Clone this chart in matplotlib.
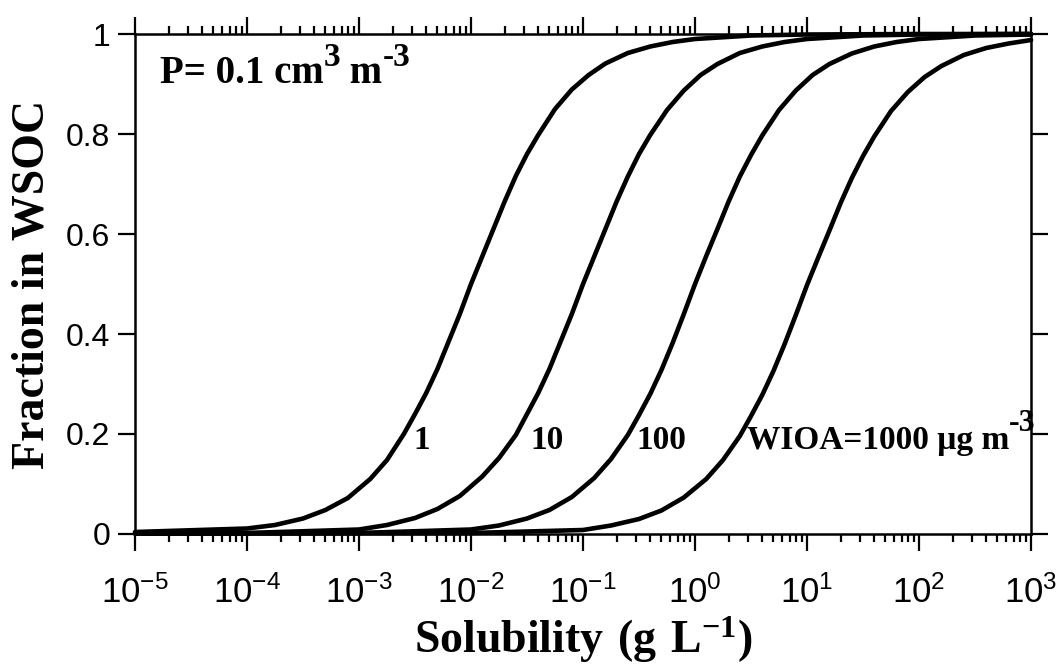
import numpy as np
import matplotlib
matplotlib.use("Agg")
import matplotlib.pyplot as plt
from matplotlib.ticker import FixedLocator, FixedFormatter

plt.rcParams["font.family"] = "Liberation Sans"
plt.rcParams["mathtext.fontset"] = "custom"
plt.rcParams["mathtext.rm"] = "Liberation Sans"
plt.rcParams["mathtext.bf"] = "Liberation Serif:bold"

# log10 of solubility (g/L) and fraction in WSOC for each WIOA loading
log_s_1 = [-5, -4, -3.75, -3.5, -3.3, -3.1, -2.9, -2.75, -2.6, -2.5, -2.4, -2.3,
           -2.2, -2.1, -2.0, -1.9, -1.8, -1.7, -1.6, -1.5, -1.4, -1.25, -1.1,
           -0.95, -0.8, -0.6, -0.4, -0.2, 0, 0.5, 1, 2, 3]
frac_1 = [0.004, 0.011, 0.018, 0.031, 0.048, 0.072, 0.11, 0.148, 0.20, 0.24, 0.282, 0.33,
          0.385, 0.44, 0.50, 0.555, 0.61, 0.665, 0.716, 0.76, 0.798, 0.85, 0.889,
          0.918, 0.941, 0.962, 0.975, 0.984, 0.99, 0.997, 0.999, 1.0, 1.0]

log_s_10 = [-5, -4, -3, -2.75, -2.5, -2.3, -2.1, -1.9, -1.75, -1.6, -1.5, -1.4,
            -1.3, -1.2, -1.1, -1.0, -0.9, -0.8, -0.7, -0.6, -0.5, -0.4, -0.25,
            -0.1, 0.05, 0.2, 0.4, 0.6, 0.8, 1.0, 1.5, 2, 3]
frac_10 = [0.001, 0.002, 0.009, 0.018, 0.032, 0.05, 0.076, 0.115, 0.152, 0.198, 0.24, 0.282,
           0.33, 0.385, 0.44, 0.50, 0.555, 0.61, 0.665, 0.715, 0.76, 0.798, 0.848,
           0.887, 0.918, 0.94, 0.962, 0.975, 0.984, 0.99, 0.997, 0.999, 1.0]

log_s_100 = [-5, -3, -2, -1.75, -1.5, -1.3, -1.1, -0.9, -0.75, -0.6, -0.5, -0.4,
             -0.3, -0.2, -0.1, 0, 0.1, 0.2, 0.3, 0.4, 0.5, 0.6, 0.75,
             0.9, 1.05, 1.2, 1.4, 1.6, 1.8, 2.0, 2.5, 3]
frac_100 = [0.001, 0.002, 0.009, 0.017, 0.031, 0.048, 0.074, 0.112, 0.15, 0.198, 0.238, 0.28,
            0.328, 0.382, 0.44, 0.50, 0.556, 0.61, 0.665, 0.715, 0.758, 0.797, 0.848,
            0.887, 0.918, 0.94, 0.961, 0.975, 0.984, 0.99, 0.997, 0.999]

log_s_1000 = [-5, -2, -1, -0.75, -0.5, -0.3, -0.1, 0.1, 0.25, 0.4, 0.5, 0.6,
              0.7, 0.8, 0.9, 1.0, 1.1, 1.2, 1.3, 1.4, 1.5, 1.6, 1.75,
              1.9, 2.05, 2.2, 2.4, 2.6, 2.8, 3.0]
frac_1000 = [0.001, 0.002, 0.008, 0.017, 0.03, 0.047, 0.073, 0.11, 0.148, 0.196, 0.236, 0.278,
             0.326, 0.38, 0.438, 0.498, 0.553, 0.607, 0.662, 0.712, 0.756, 0.795, 0.846,
             0.884, 0.914, 0.936, 0.958, 0.972, 0.981, 0.988]

curves = [(log_s_1, frac_1), (log_s_10, frac_10),
          (log_s_100, frac_100), (log_s_1000, frac_1000)]

curve_labels = ["1", "10", "100"]
curve_label_x = [3.6e-3, 4.8e-2, 5.0e-1]

y_ticks = [0, 0.2, 0.4, 0.6, 0.8, 1.0]
y_tick_labels = ["0", "0.2", "0.4", "0.6", "0.8", "1"]

serif_bold = dict(family="Liberation Serif", weight="bold")


def text_with_sup(ax, x, y, parts, transform, size):
    """Write base text followed by raised pieces: parts = [(text, size, rise_pt), ...]."""
    base = ax.text(x, y, parts[0][0], transform=transform, fontsize=size,
                   ha="left", va="baseline", **serif_bold)
    prev = base
    for s, sz, rise in parts[1:]:
        prev = ax.annotate(s, xy=(1, 0), xycoords=(prev, base),
                           xytext=(0, rise), textcoords="offset points",
                           fontsize=sz, ha="left", va="bottom",
                           annotation_clip=False, **serif_bold)
    return base


fig = plt.figure(figsize=(10.59, 6.68), dpi=100)
ax = fig.add_axes([0.1275, 0.2006, 0.8461, 0.7485])

for lg, fr in curves:
    ax.plot(10 ** np.array(lg), fr, color="black", lw=3.3,
            solid_joinstyle="round", solid_capstyle="round", clip_on=False)

ax.set_xscale("log")
ax.set_xlim(1e-5, 1e3)
ax.set_ylim(0, 1)
ax.yaxis.set_major_locator(FixedLocator(y_ticks))
ax.yaxis.set_major_formatter(FixedFormatter(y_tick_labels))

for sp in ax.spines.values():
    sp.set_linewidth(1.8)
ax.tick_params(which="both", direction="out", top=True, right=True, width=1.6)
ax.tick_params(which="major", length=12, labelsize=23, pad=6)
ax.tick_params(which="minor", length=6)
ax.tick_params(axis="x", which="major", labelsize=25, pad=18)

ax.set_xlabel(r"$\mathbf{Solubility\ (g\ L^{-1})}$", fontsize=33, labelpad=3)
ax.set_ylabel("Fraction in WSOC", fontsize=33, labelpad=9, **serif_bold)

for lab, xl in zip(curve_labels, curve_label_x):
    ax.text(xl, 0.17, lab, fontsize=24, ha="center", va="baseline", **serif_bold)

text_with_sup(ax, 2.9, 0.17, [("WIOA=1000 \u03bcg m", 24, 0), ("-3", 23, 13)],
              ax.transData, 24)
text_with_sup(ax, 0.028, 0.902, [("P= 0.1 cm", 28, 0), ("3", 24, 14),
                                 (" m", 28, 0), ("-3", 24, 14)],
              ax.transAxes, 28)

fig.savefig("out.png", dpi=100)
